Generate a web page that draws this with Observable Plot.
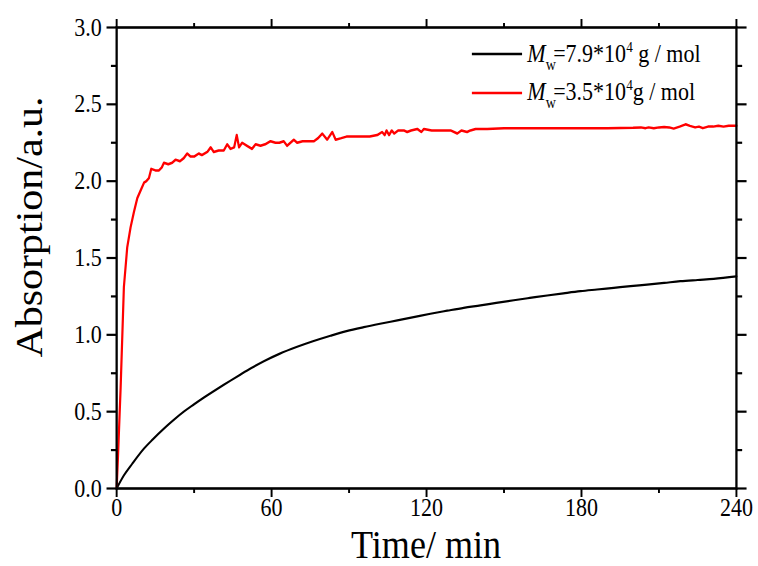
<!DOCTYPE html>
<html><head><meta charset="utf-8">
<script src="https://cdn.jsdelivr.net/npm/d3@7"></script>
<script src="https://cdn.jsdelivr.net/npm/@observablehq/plot@0.6"></script>
<style>body{margin:0;background:#fff}#chart{width:758px;height:566px;overflow:hidden}</style>
</head><body><div id="chart"></div>
<script>
// Mw = 7.9*10^4 g/mol (black)
const blackTime = [0,2.8,6,10.6,14,18.3,22,26,30,33.8,38,41.5,44.1,48,52,57,63,69.9,76,82.8,89,95.7,102,108.7,115,121.5,128,134.4,140.9,147,153.8,160,166.7,173,179.6,186,192.5,199,205.4,212,218.3,225,231.2,240];
const blackAbs  = [0,0.085,0.16,0.26,0.32,0.39,0.445,0.50,0.548,0.592,0.638,0.675,0.702,0.742,0.782,0.828,0.876,0.922,0.958,0.994,1.024,1.05,1.072,1.094,1.115,1.137,1.157,1.176,1.192,1.208,1.225,1.24,1.256,1.27,1.284,1.295,1.306,1.317,1.327,1.338,1.349,1.357,1.364,1.38];
// Mw = 3.5*10^4 g/mol (red)
const redTime = [0,0.5,1.55,2.8,4.1,5.4,6.7,8.0,9.3,10.6,11.5,12.5,13.4,15,16.4,17.5,18.3,20,21.5,22.8,24.5,26,27.3,28.6,30,31.8,33,35.1,36.4,37.6,39.5,41.5,42.8,44.1,45.5,46.5,47.4,48.6,50.5,52.4,53.8,55.7,57.5,59.6,61.5,63,64.7,66,68.6,69.9,72,74,76.4,78,79.6,81.5,83.5,84.8,87,89,92,95,98,100.9,102.8,103.8,104.5,105.5,106.5,107.5,109,111.2,112.5,114,116.4,118,119,122,125,129.3,131.9,133.5,135.7,137,139,143.5,150,160,170,180,190,200,203,204.8,206,208,210,212,214,215.7,218,220.3,222,224,225.5,227,229,231,233,235,237,238.8,240];
const redAbs  = [0,0.2,0.66,1.31,1.57,1.70,1.80,1.89,1.94,1.99,2.00,2.02,2.08,2.07,2.07,2.09,2.12,2.11,2.12,2.14,2.13,2.15,2.18,2.16,2.16,2.18,2.17,2.19,2.22,2.19,2.20,2.20,2.24,2.21,2.22,2.30,2.22,2.25,2.23,2.21,2.24,2.23,2.24,2.26,2.25,2.25,2.26,2.23,2.27,2.25,2.26,2.26,2.26,2.28,2.31,2.27,2.32,2.27,2.28,2.29,2.29,2.29,2.29,2.30,2.32,2.30,2.33,2.30,2.33,2.31,2.33,2.33,2.32,2.33,2.34,2.32,2.34,2.33,2.33,2.33,2.31,2.33,2.32,2.33,2.34,2.34,2.345,2.345,2.345,2.345,2.345,2.347,2.35,2.345,2.35,2.345,2.35,2.352,2.35,2.342,2.355,2.37,2.36,2.35,2.355,2.345,2.355,2.355,2.36,2.355,2.36,2.36,2.36];

const xTicks = [0,60,120,180,240];
const xMinor = [30,90,150,210];
const yTicks = [0,0.5,1,1.5,2,2.5,3];
const yMinor = [0.25,0.75,1.25,1.75,2.25,2.75];
const xLabel = "Time/ min";
const yLabel = "Absorption/a.u.";

const W = 861, H = 566, OUTW = 758;
const black = blackTime.map((t,i)=>({t, a: blackAbs[i]}));
const red = redTime.map((t,i)=>({t, a: redAbs[i]}));
const font = "'Liberation Serif','Times New Roman',serif";
const noText = () => "";

const plot = Plot.plot({
  width: W, height: H,
  marginLeft: 132, marginRight: 25, marginTop: 27, marginBottom: 78,
  style: {fontFamily: font, fontSize: "25px", color: "#000", background: "#fff"},
  x: {domain: [0, 240], label: null},
  y: {domain: [0, 3], label: null},
  marks: [
    Plot.line(black, {x: "t", y: "a", stroke: "#000", strokeWidth: 2.2, curve: "monotone-x"}),
    Plot.line(red, {x: "t", y: "a", stroke: "#ff0000", strokeWidth: 2.5}),
    Plot.axisX({ticks: xTicks, tickSize: 9, tickPadding: 1, tickFormat: d => String(d), strokeWidth: 2.2, label: null}),
    Plot.axisX({ticks: xMinor, tickSize: 5, tickFormat: noText, strokeWidth: 2.2, label: null}),
    Plot.axisX({anchor: "top", ticks: xTicks, tickSize: 9, tickFormat: noText, strokeWidth: 2.2, label: null}),
    Plot.axisX({anchor: "top", ticks: xMinor, tickSize: 5, tickFormat: noText, strokeWidth: 2.2, label: null}),
    Plot.axisY({ticks: yTicks, tickSize: 11, tickPadding: 6, tickFormat: d3.format(".1f"), strokeWidth: 2.2, label: null}),
    Plot.axisY({ticks: yMinor, tickSize: 6, tickFormat: noText, strokeWidth: 2.2, label: null}),
    Plot.axisY({anchor: "right", ticks: yTicks, tickSize: 11, tickFormat: noText, strokeWidth: 2.2, label: null}),
    Plot.axisY({anchor: "right", ticks: yMinor, tickSize: 6, tickFormat: noText, strokeWidth: 2.2, label: null}),
    Plot.frame({stroke: "#000", strokeWidth: 2.6})
  ]
});

const svg = d3.select(plot);
// axis titles
svg.append("text").attr("x", 484).attr("y", 558).attr("font-family", font).attr("font-size", 41)
  .attr("text-anchor", "middle").attr("fill", "#000").text(xLabel);
svg.append("text").attr("transform", "translate(34,227) rotate(-90)").attr("font-family", font).attr("font-size", 42)
  .attr("text-anchor", "middle").attr("dominant-baseline", "central").attr("fill", "#000").text(yLabel);

// legend
const legend = [
  {color: "#000", y: 54, base: 62, value: "7.9*10", tail: " g / mol"},
  {color: "#ff0000", y: 93, base: 100, value: "3.5*10", tail: "g / mol"}
];
const lg = svg.append("g").attr("font-family", font).attr("fill", "#000").attr("text-anchor", "start");
legend.forEach(d => {
  lg.append("line").attr("x1", 536).attr("x2", 593).attr("y1", d.y).attr("y2", d.y)
    .attr("stroke", d.color).attr("stroke-width", 2.4);
  const t = lg.append("text").attr("x", 599).attr("y", d.base).attr("font-size", 25).attr("text-anchor", "start");
  t.append("tspan").attr("font-style", "italic").text("M");
  t.append("tspan").attr("font-size", 16).attr("dy", 8).text("w");
  t.append("tspan").attr("dx", -3).attr("dy", -8).text("=" + d.value);
  t.append("tspan").attr("font-size", 15).attr("dy", -10).text("4");
  t.append("tspan").attr("dy", 10).text(d.tail);
});

plot.setAttribute("width", OUTW);
plot.setAttribute("height", H);
plot.setAttribute("preserveAspectRatio", "none");
plot.style.width = OUTW + "px";
plot.style.height = H + "px";
plot.style.maxWidth = "none";
document.getElementById("chart").appendChild(plot);
</script>
</body></html>
